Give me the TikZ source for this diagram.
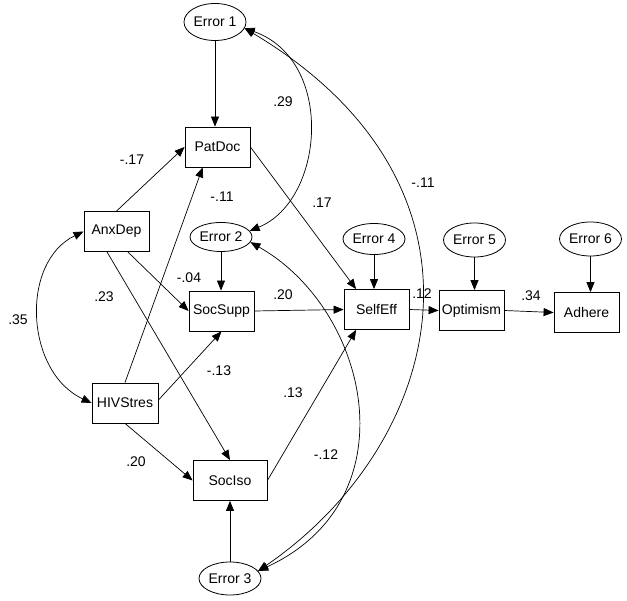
\documentclass[tikz,border=0pt]{standalone}
\usepackage{fontspec}
\setmainfont{Liberation Sans}
\usetikzlibrary{arrows.meta,shapes.geometric}
\begin{document}
\begin{tikzpicture}[x=1pt,y=-1pt,
  every node/.style={font=\fontsize{14}{16}\selectfont},
  box/.style={draw, line width=0.8pt, minimum width=65pt, minimum height=40pt, inner sep=0pt},
  err/.style={draw, ellipse, line width=0.8pt, minimum width=62pt, minimum height=32pt, inner sep=0pt},
  lbl/.style={inner sep=0pt},
  arr/.style={line width=0.7pt, -{Triangle[length=10pt,width=8pt]}},
  dbl/.style={line width=0.7pt, {Triangle[length=10pt,width=8pt]}-{Triangle[length=10pt,width=8pt]}}]
\useasboundingbox (0,0) rectangle (627,601);
% nodes
\node[err, minimum height=37pt] (e1) at (215,22) {Error 1};
\node[box] (pd) at (217.5,147) {PatDoc};
\node[box] (anx) at (116.5,231.5) {AnxDep};
\node[err, minimum height=29pt] (e2) at (221,237) {Error 2};
\node[box] (ss) at (221.5,311) {SocSupp};
\node[box, minimum width=66pt] (hiv) at (125,403) {HIVStres};
\node[box, minimum width=74pt] (si) at (230,480.5) {SocIso};
\node[err, minimum height=33pt] (e3) at (230,578.5) {Error 3};
\node[box] (se) at (376.5,309.5) {SelfEff};
\node[box] (op) at (471.5,310.5) {Optimism};
\node[box] (ad) at (586.5,312.5) {Adhere};
\node[err, minimum height=31pt] (e4) at (374,239) {Error 4};
\node[err, minimum height=34pt] (e5) at (474.5,240) {Error 5};
\node[err, minimum height=34pt] (e6) at (590.5,239) {Error 6};
% straight paths
\draw[arr] (e1.south) -- (e1.south |- pd.north);
\draw[arr] (anx.north) -- (pd.west);
\draw[arr] (hiv.north) -- (pd.-126);
\draw[arr] (anx.-61) -- (ss.west);
\draw[arr] (anx.-115) -- (si.north);
\draw[arr] (hiv.5) -- (ss.south);
\draw[arr] (hiv.south) -- (si.west);
\draw[arr] (e2.south) -- (e2.south |- ss.north);
\draw[arr] (e3.north) -- (si.south);
\draw[arr] (pd.east) -- (se.135);
\draw[arr] (ss.east) -- (se.west);
\draw[arr] (si.east) -- (se.-135);
\draw[arr] (e4.south) -- (e4.south |- se.north);
\draw[arr] (se.east) -- (op.west);
\draw[arr] (e5.south) -- (e5.south |- op.north);
\draw[arr] (op.east) -- (ad.west);
\draw[arr] (e6.south) -- (e6.south |- ad.north);
% covariances
\draw[dbl] (anx.west) .. controls (20,262) and (25,372) .. (hiv.west);
\draw[dbl] (e1.-12) .. controls (335,60) and (325,200) .. (e2.12);
\draw[dbl] (e1.-12) .. controls (509,186) and (446,442) .. (e3.15);
\draw[dbl] (e2.-10) .. controls (370,310) and (412,500) .. (e3.15);
% labels
\node[lbl] (l1) at (132,160) {-.17};
\node[lbl] (l2) at (222,197) {-.11};
\node[lbl] (l3) at (283,102) {.29};
\node[lbl] (l4) at (322,203) {.17};
\node[lbl] (l5) at (423,183) {-.11};
\node[lbl] (l6) at (189,278) {-.04};
\node[lbl] (l7) at (104,297) {.23};
\node[lbl] (l8) at (18,320) {.35};
\node[lbl] (l9) at (283,295) {.20};
\node[lbl] (l10) at (219,371) {-.13};
\node[lbl] (l11) at (293,393) {.13};
\node[lbl] (l12) at (422,294) {.12};
\node[lbl] (l13) at (531,296) {.34};
\node[lbl] (l14) at (136,462) {.20};
\node[lbl] (l15) at (326,455) {-.12};
\end{tikzpicture}
\end{document}
